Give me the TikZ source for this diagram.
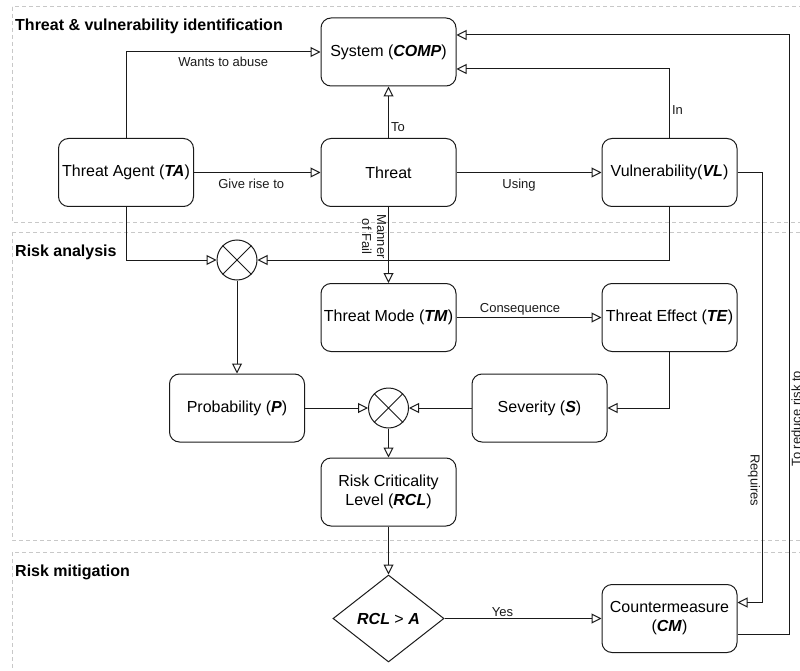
\documentclass[tikz,border=0pt]{standalone}
\usepackage{fontspec}
\setmainfont{Liberation Sans}
\usetikzlibrary{shapes.geometric,arrows.meta,positioning,calc}
\definecolor{ink}{HTML}{1A1A1A}
\definecolor{lanegrey}{HTML}{C8C8C8}
\newcommand{\Abbr}[1]{\textbf{\textit{#1}}}

\begin{document}
\begin{tikzpicture}[x=1pt,y=-1pt,
  box/.style={draw=ink,line width=1pt,rounded corners=10pt,minimum width=135pt,minimum height=68pt,inner sep=1pt,align=center,font=\fontsize{16}{19}\selectfont},
  mult/.style={draw=ink,line width=1pt,circle,minimum size=40pt,inner sep=0pt},
  decision/.style={draw=ink,line width=1pt,diamond,aspect=1.28,minimum width=111pt,minimum height=87pt,inner sep=0pt,font=\fontsize{16}{19}\selectfont},
  link/.style={draw=ink,line width=1pt,-{Triangle[open,length=10pt,width=10pt]}},
  lbl/.style={font=\fontsize{13}{15}\selectfont,inner sep=2pt,text=ink},
  lane/.style={draw=lanegrey,line width=1pt,dash pattern=on 4pt off 3pt},
  lanetitle/.style={anchor=base west,font=\fontsize{16}{19}\selectfont\bfseries,inner sep=0pt}]
\useasboundingbox (0,0) rectangle (800,671);
\draw[lane] (12,7) rectangle (812,222);
\draw[lane] (12,232) rectangle (812,540);
\draw[lane] (12,552) rectangle (812,690);
\node[lanetitle] (titleid) at (15,31) {Threat \& vulnerability identification};
\node[lanetitle] (titlera) at (15,256) {Risk analysis};
\node[lanetitle] (titlerm) at (15,576) {Risk mitigation};

\node[box] (sys) at (388.5,52) {System (\Abbr{COMP})};
\node[box] (ta) at (126,172.5) {Threat Agent (\Abbr{TA})};
\node[box] (thr) at (388.5,172.5) {Threat};
\node[box] (vl) at (669.5,172.5) {Vulnerability(\Abbr{VL})};
\node[mult] (c1) at (237,260) {};
\node[box] (tm) at (388.5,317.5) {Threat Mode (\Abbr{TM})};
\node[box] (te) at (669.5,317.5) {Threat Effect (\Abbr{TE})};
\node[box] (prob) at (237,408) {Probability (\Abbr{P})};
\node[mult] (c2) at (388.5,408) {};
\node[box] (sev) at (539.5,408) {Severity (\Abbr{S})};
\node[box] (rcl) at (388.5,492) {Risk Criticality\\Level (\Abbr{RCL})};
\node[decision] (dec) at (388.5,618.5) {\Abbr{RCL} > \Abbr{A}};
\node[box] (cm) at (669.5,618.5) {Countermeasure\\(\Abbr{CM})};
\foreach \c in {c1,c2} {
  \draw[ink,line width=1pt] (\c.north east) -- (\c.south west) (\c.north west) -- (\c.south east);
}

\draw[link] (ta.north) |- (sys.west) node[lbl,below,pos=0.75,yshift=-3pt] (lababuse) {Wants to abuse};
\draw[link] (ta.east) -- (thr.west) node[lbl,below,midway,xshift=-6pt,yshift=-4pt] (labrise) {Give rise to};
\draw[link] (thr.north) -- (sys.south) node[lbl,right,pos=0.22] (labto) {To};
\draw[link] (thr.east) -- (vl.west) node[lbl,below,midway,xshift=-10pt,yshift=-4pt] (labusing) {Using};
\draw[link] (vl.north) |- ($(sys.east)+(0,17)$) node[lbl,right,pos=0.2] (labin) {In};
\draw[link] ($(cm.east)+(0,16)$) -- ++(52,0) |- ($(sys.east)+(0,-17)$)
  node[lbl,rotate=90,anchor=north,pos=0.18,inner sep=1.5pt] (labreduce) {To reduce risk to};
\draw[link] (vl.east) -- ++(25,0) |- ($(cm.east)+(0,-16)$)
  node[lbl,rotate=-90,anchor=north,pos=0.358] (labreq) {Requires};
\draw[link] (ta.south) |- (c1.west);
\draw[link] (vl.south) |- (c1.east);
\draw[link] (thr.south) -- (tm.north) node[lbl,rotate=-90,anchor=north,align=center,pos=0.39] (labmanner) {Manner\\of Fail};
\draw[link] (tm.east) -- (te.west) node[lbl,above,midway,xshift=-9pt] (labcons) {Consequence};
\draw[link] (te.south) |- (sev.east);
\draw[link] (c1.south) -- (prob.north);
\draw[link] (prob.east) -- (c2.west);
\draw[link] (sev.west) -- (c2.east);
\draw[link] (c2.south) -- (rcl.north);
\draw[link] (rcl.south) -- (dec.north);
\draw[link] (dec.east) -- (cm.west) node[lbl,above,pos=0.37,yshift=-1pt] (labyes) {Yes};
\end{tikzpicture}
\end{document}
